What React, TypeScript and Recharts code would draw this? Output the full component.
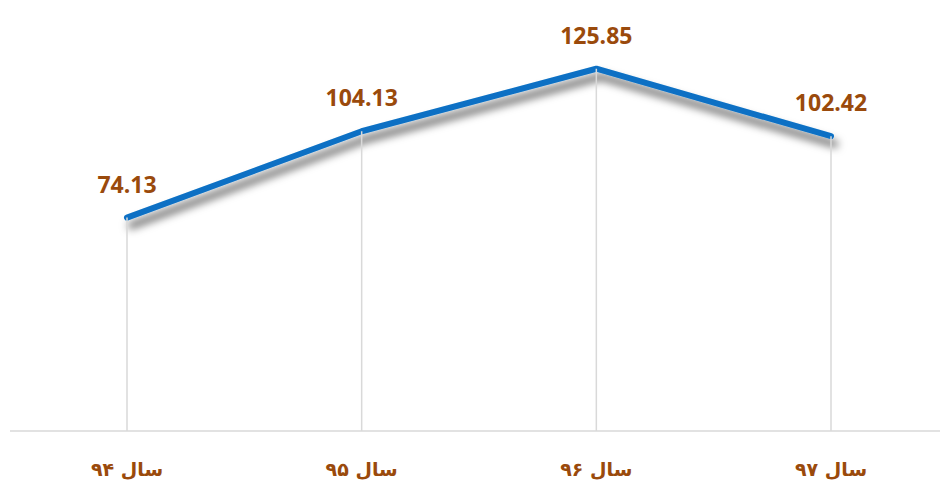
import { LineChart, Line, XAxis, YAxis, LabelList } from "recharts"

const years = ["سال ۹۴", "سال ۹۵", "سال ۹۶", "سال ۹۷"]
const values = [74.13, 104.13, 125.85, 102.42]

const data = years.map((year, i) => ({ year, value: values[i] }))

const BROWN = "#9A4A0C"
const BLUE = "#0A70C4"
const GRID = "#D9D9D9"
const AXIS_Y = 431

// drop line from each point down to the axis
function DropLine({ cx, cy, index }: any) {
  if (cx == null || cy == null) return null
  return <line key={index} x1={cx} y1={cy} x2={cx} y2={AXIS_Y} stroke={GRID} strokeWidth={1.5} />
}

function YearTick({ x, y, payload }: any) {
  return (
    <text
      x={x}
      y={y + 37}
      textAnchor="middle"
      fill={BROWN}
      fontSize={19}
      fontWeight="bold"
      fontFamily="DejaVu Sans"
    >
      {payload.value}
    </text>
  )
}

function ValueLabel({ x, y, value }: any) {
  return (
    <text
      x={x}
      y={y - 25}
      textAnchor="middle"
      fill={BROWN}
      style={{ fontSize: 23, fontWeight: 700, fontFamily: "'Open Sans', 'Noto Sans', sans-serif" }}
    >
      {Number(value).toFixed(2)}
    </text>
  )
}

export default function App() {
  return (
    <div style={{ position: "absolute", left: 0, top: 0, background: "#fff" }}>
      <LineChart width={944} height={488} data={data} margin={{ top: 28, right: 4, left: 10, bottom: 0 }}>
        <defs>
          <filter id="lineShadow" x="-10%" y="-30%" width="120%" height="160%">
            <feDropShadow dx={4} dy={8} stdDeviation={4} floodColor="#000" floodOpacity={0.65} />
          </filter>
        </defs>
        <XAxis
          dataKey="year"
          height={57}
          padding={{ left: 117, right: 109 }}
          tickLine={false}
          axisLine={{ stroke: GRID, strokeWidth: 1.5 }}
          tick={<YearTick />}
          interval={0}
        />
        <YAxis hide domain={[0, 140]} />
        <Line
          dataKey="value"
          stroke="none"
          dot={<DropLine />}
          activeDot={false}
          isAnimationActive={false}
          legendType="none"
        />
        <Line
          dataKey="value"
          stroke={BLUE}
          strokeWidth={6}
          strokeLinecap="round"
          strokeLinejoin="round"
          filter="url(#lineShadow)"
          dot={false}
          activeDot={false}
          isAnimationActive={false}
        >
          <LabelList dataKey="value" content={<ValueLabel />} />
        </Line>
      </LineChart>
    </div>
  )
}
